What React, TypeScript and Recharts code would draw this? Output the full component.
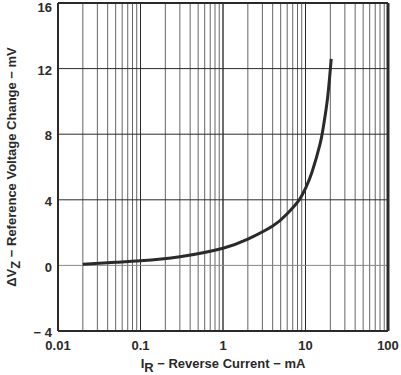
import { LineChart, Line, XAxis, YAxis, CartesianGrid, ReferenceLine } from "recharts";

const INK = "#2a2a2a";
const GRID = "#666";

// reverse current (mA) and reference voltage change (mV)
const currents = [0.02, 0.05, 0.1, 0.3, 1, 2, 4, 6, 8.4, 10, 12, 15, 16.4, 18.4, 20.5];
const deltaVz = [0.07, 0.19, 0.28, 0.53, 1.05, 1.6, 2.4, 3.15, 4.0, 4.7, 5.7, 7.4, 8.4, 10.1, 12.6];

const xDecades = [0.01, 0.1, 1, 10, 100];
const xMinor = [2, 3, 4, 5, 6, 7, 8, 9];
const yTicks = [-4, 0, 4, 8, 12, 16];

const data = currents.map((c, i) => ({ ir: c, dvz: deltaVz[i] }));

const xTicks: number[] = [];
xDecades.forEach((d, i) => {
  xTicks.push(d);
  if (i < xDecades.length - 1) xMinor.forEach(m => xTicks.push(+(d * m).toPrecision(3)));
});

const font = "'Liberation Sans', Arial, sans-serif";

function XTick(props: any) {
  const { x, payload } = props;
  const v = payload.value;
  if (!xDecades.includes(v)) return null;
  return (
    <text x={x} y={350} textAnchor="middle" fontFamily={font} fontWeight={700} fontSize={13} fill={INK}>
      {String(v)}
    </text>
  );
}

function YTick(props: any) {
  const { y, payload } = props;
  const v = payload.value;
  const label = v < 0 ? `− ${Math.abs(v)}` : String(v);
  return (
    <text x={52} y={Math.max(y + 1.5, 7)} dy="0.36em" textAnchor="end" fontFamily={font} fontWeight={700} fontSize={13} fill={INK}>
      {label}
    </text>
  );
}

function YTitle(props: any) {
  const vb = props.viewBox || {};
  const cx = 13;
  const cy = vb.y + vb.height / 2;
  return (
    <text
      x={cx}
      y={cy}
      transform={`rotate(-90 ${cx} ${cy})`}
      textAnchor="middle"
      dominantBaseline="middle"
      fontFamily={font}
      fontWeight={700}
      fontSize={13}
      fill={INK}
    >
      ΔV<tspan dy={4}>Z</tspan>
      <tspan dy={-4}> − Reference Voltage Change − mV</tspan>
    </text>
  );
}

function XTitle(props: any) {
  const vb = props.viewBox || {};
  const cx = vb.x + vb.width / 2;
  return (
    <text x={cx} y={368} textAnchor="middle" fontFamily={font} fontWeight={700} fontSize={13} fill={INK}>
      I<tspan dy={3.5}>R</tspan>
      <tspan dy={-3.5}> − Reverse Current − mA</tspan>
    </text>
  );
}

export default function App() {
  return (
    <div style={{ position: "absolute", left: 0, top: 0, width: 401, height: 375, background: "#fff" }}>
      <LineChart width={401} height={375} data={data} margin={{ top: 3, right: 13, bottom: 0, left: 0 }}>
        <CartesianGrid stroke={GRID} horizontal={false} />
        <XAxis
          dataKey="ir"
          type="number"
          scale="log"
          domain={[0.01, 100]}
          ticks={xTicks}
          interval={0}
          tickLine={false}
          axisLine={{ stroke: INK, strokeWidth: 2 }}
          height={44}
          tick={<XTick />}
          allowDataOverflow
          label={<XTitle />}
        />
        <YAxis
          type="number"
          domain={[-4, 16]}
          ticks={yTicks}
          interval={0}
          tickLine={false}
          axisLine={{ stroke: INK, strokeWidth: 2 }}
          width={58}
          tick={<YTick />}
          label={<YTitle />}
        />
        {[0.1, 1, 10].map(v => (
          <ReferenceLine key={v} x={v} stroke={INK} strokeWidth={1} />
        ))}
        <ReferenceLine y={0} stroke="#888" strokeWidth={1} />
        {[4, 8, 12].map(v => (
          <ReferenceLine key={v} y={v} stroke={INK} strokeWidth={1} />
        ))}
        <ReferenceLine y={16} stroke={INK} strokeWidth={2} ifOverflow="visible" />
        <ReferenceLine x={100} stroke={INK} strokeWidth={3} ifOverflow="visible" />
        <Line
          type="natural"
          dataKey="dvz"
          stroke={INK}
          strokeWidth={3}
          dot={false}
          isAnimationActive={false}
        />
      </LineChart>
    </div>
  );
}
